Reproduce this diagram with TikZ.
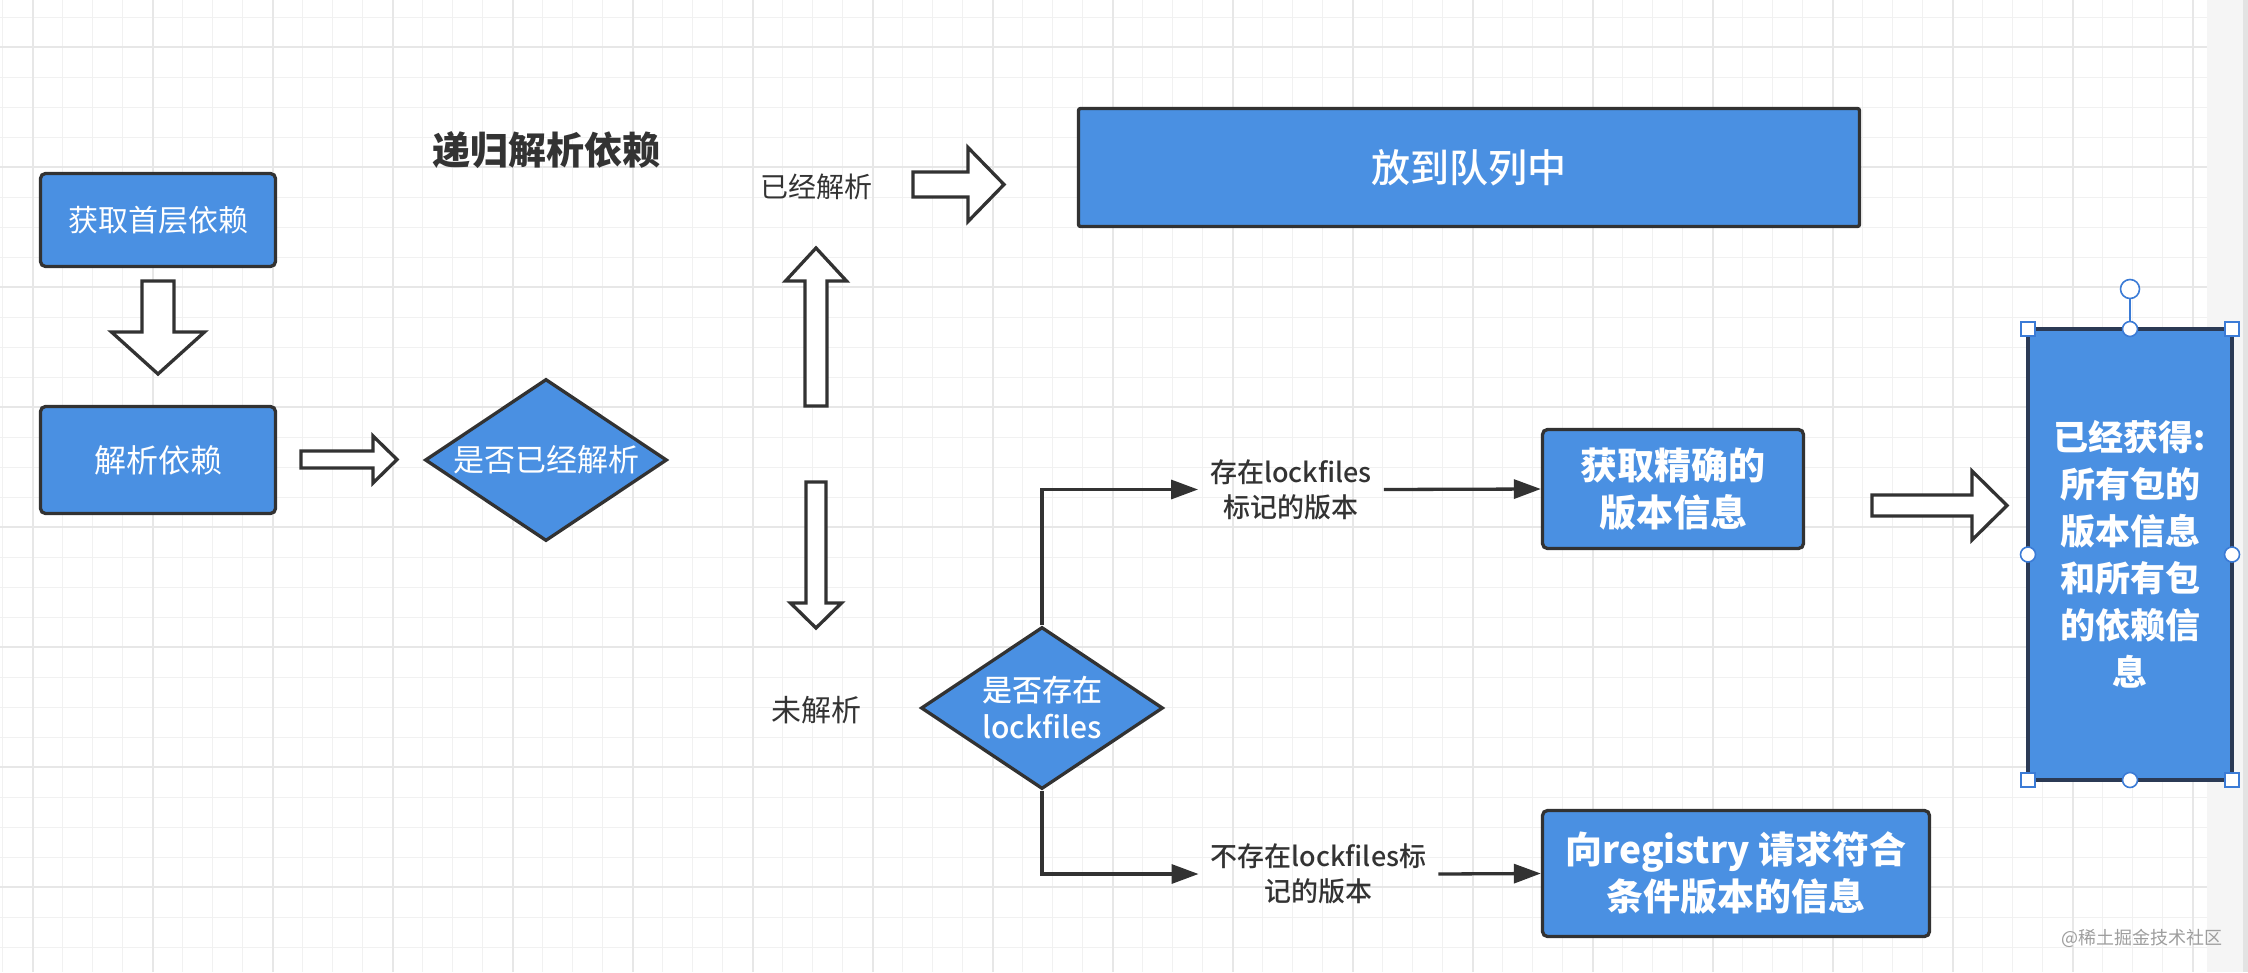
\documentclass[tikz,border=0pt]{standalone}
\usepackage{fontspec}
\setmainfont{Noto Sans CJK SC}
\newfontfamily\medium{Noto Sans CJK SC Medium}
\usetikzlibrary{shapes.geometric,arrows.meta}
\definecolor{boxblue}{HTML}{4A90E2}
\definecolor{linegray}{HTML}{323232}
\definecolor{textgray}{HTML}{333333}
\definecolor{gridminor}{HTML}{F1F1F1}
\definecolor{gridmajor}{HTML}{E7E7E7}
\definecolor{handleblue}{HTML}{3B7BD6}
\definecolor{selnavy}{HTML}{2B3A55}
\newcommand\fsz[2]{\fontsize{#1pt}{#2pt}\selectfont}
% hollow block arrows: (start:centre:head start:tip:shaft half:head half)
\def\harrow(#1:#2:#3:#4:#5:#6){\draw[hollow] (#1,#2-#5) -- (#3,#2-#5) -- (#3,#2-#6) -- (#4,#2) -- (#3,#2+#6) -- (#3,#2+#5) -- (#1,#2+#5) -- cycle;}
\def\varrow(#1:#2:#3:#4:#5:#6){\draw[hollow] (#1-#5,#2) -- (#1-#5,#3) -- (#1-#6,#3) -- (#1,#4) -- (#1+#6,#3) -- (#1+#5,#3) -- (#1+#5,#2) -- cycle;}

\begin{document}
\begin{tikzpicture}[x=1pt,y=-1pt,
	bluebox/.style={draw=linegray, line width=3.3pt, fill=boxblue, rounded corners=5pt, text=white, align=center, inner sep=0pt},
	decision/.style={diamond, aspect=1.5, draw=linegray, line width=3.3pt, fill=boxblue, text=white, align=center, inner sep=0pt, minimum width=242, minimum height=162},
	note/.style={text=textgray, align=center, inner xsep=12pt, inner ysep=2pt},
	hollow/.style={draw=linegray, line width=3.3pt, fill=white},
	conn/.style={draw=linegray, line width=3.3pt, -{Triangle[length=27pt,width=19pt]}},
	handle/.style={draw=handleblue, line width=1.6pt, fill=white}]
				%%%%% BACKGROUND %%%%%
				\useasboundingbox (0,0) rectangle (2248,972);
				\fill[white] (0,0) rectangle (2248,972);
				\foreach \gx in {2.7,32.7,...,2207} \draw[gridminor, line width=1.3pt] (\gx,0) -- (\gx,972);
				\foreach \gy in {17.3,47.3,...,972} \draw[gridminor, line width=1.3pt] (0,\gy) -- (2207,\gy);
				\foreach \gx in {32.7,152.7,...,2207} \draw[gridmajor, line width=2pt] (\gx,0) -- (\gx,972);
				\foreach \gy in {47.3,167.3,...,972} \draw[gridmajor, line width=2pt] (0,\gy) -- (2207,\gy);
				\fill[black!4] (2207,0) rectangle (2243,972);
				\fill[black!11] (2243,0) rectangle (2248,972);

				%%%%% NODES %%%%%
				\node[bluebox, minimum width=235, minimum height=93, font=\fsz{30}{38}] (first) at (158,220) {获取首层依赖};
				\node[bluebox, minimum width=235, minimum height=107, font=\fsz{32}{40}] (parse) at (158,460) {解析依赖};
				\node[decision, font=\fsz{31}{38}] (resolved) at (546,460) {是否已经解析};
				\node[font=\bfseries\fsz{38}{46}, text=textgray] (title) at (546,150) {递归解析依赖};
				\node[note, font=\fsz{28}{34}] (done) at (816,187) {已经解析};
				\node[bluebox, rounded corners=2pt, minimum width=781, minimum height=118, font=\medium\fsz{39}{46}] (queue) at (1469,167.5) {放到队列中};
				\node[note, font=\fsz{30}{36}] (todo) at (816,710) {未解析};
				\node[decision, font=\medium\fsz{30}{37}] (haslock) at (1042,708) {是否存在\\lockfiles};
				\node[note, font=\medium\fsz{27}{35}] (inlock) at (1291,489.5) {存在lockfiles\\标记的版本};
				\node[note, font=\medium\fsz{27}{35}] (nolock) at (1318.5,874) {不存在lockfiles标\\记的版本};
				\node[bluebox, minimum width=261, minimum height=119, font=\bfseries\fsz{37}{47}] (exact) at (1673,489) {获取精确的\\版本信息};
				\node[bluebox, minimum width=387, minimum height=126, font=\bfseries\fsz{37}{47}] (registry) at (1736,873.5) {向registry 请求符合\\条件版本的信息};
				\node[bluebox, draw=selnavy, rounded corners=0pt, outer sep=0pt, minimum width=204, minimum height=451, font=\bfseries\fsz{35}{47}] (result) at (2130,554.5) {已经获得:\\所有包的\\版本信息\\和所有包\\的依赖信\\息};

				%%%%% BLOCK ARROWS %%%%%
				\varrow(158:281:332:374:16:46.5)
				\harrow(301:459.5:373:397:8.5:23.5)
				\varrow(816:406:281:248:11:30.5)
				\harrow(913:184.5:968:1004:12.5:37)
				\varrow(816:482:603:628:10:25.5)
				\harrow(1872:505.5:1972:2007:10.5:34.5)

				%%%%% CONNECTORS %%%%%
				\draw[conn] (haslock.north) |- (inlock.west);
				\draw[conn] (inlock.east) -- (exact.west);
				\draw[conn] (haslock.south) |- (nolock.west);
				\draw[conn] (nolock.east) -- (registry.west);

				%%%%% SELECTION HANDLES %%%%%
				\draw[handle] (result.north) -- (2130,298.5);
				\draw[handle] (2130,289) circle (9.5);
				\foreach \a in {north west,north east,south west,south east}
					\draw[handle] ([shift={(-7,-7)}]result.\a) rectangle +(14,14);
				\foreach \a in {north,south,east,west}
					\draw[handle] (result.\a) circle (7.5);

				\node[text=black!38, font=\fsz{18}{22}] (mark) at (2142,938) {@稀土掘金技术社区};
\end{tikzpicture}
\end{document}
